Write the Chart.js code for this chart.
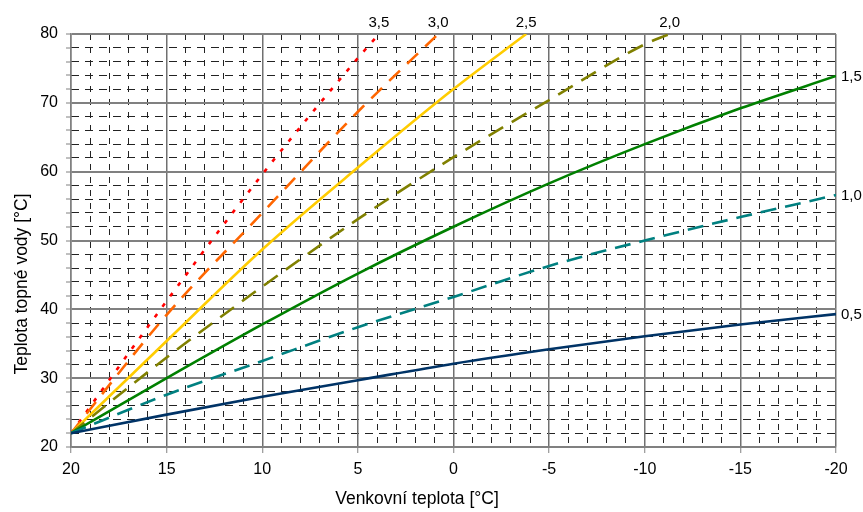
<!DOCTYPE html>
<html>
<head>
<meta charset="utf-8">
<script src="https://cdn.jsdelivr.net/npm/chart.js@4"></script>
<style>
    body { margin: 0; background: #fff; }
    #wrap { width: 863px; height: 512px; }
</style>
</head>
<body>
<div id="wrap"><canvas id="curves" width="863" height="512"></canvas></div>
<script>
// outdoor temperature (x) and water temperature (y)
const tempAll = [20, 15, 10, 5, 0, -5, -10, -15, -20];
const water05 = [22, 24.7, 27.3, 29.7, 32.1, 34.2, 36.1, 37.8, 39.3];
const water10 = [22, 27.6, 32.5, 37.4, 41.8, 46.3, 50.0, 53.4, 56.6];
const water15 = [22, 30.0, 37.8, 45.2, 52.0, 58.3, 64.0, 69.2, 73.9];

const temp20 = [20, 15, 10, 5, 0, -5, -10, -11.3];
const water20 = [22, 33.0, 43.3, 53.1, 62.1, 70.4, 78.5, 80];
const temp25 = [20, 15, 10, 5, 0, -3.8];
const water25 = [22, 35.4, 48.7, 60.6, 72.0, 80];
const temp30 = [20, 15, 10, 5, 0.8];
const water30 = [22, 39.2, 54.0, 68.7, 80];
const temp35 = [20, 15, 10, 5, 3.9];
const water35 = [22, 41.2, 59.6, 76.5, 80];

const curveLabels = ['0,5', '1,0', '1,5', '2,0', '2,5', '3,0', '3,5'];
const xTickLabels = ['20', '15', '10', '5', '0', '-5', '-10', '-15', '-20'];
const yTickLabels = ['20', '30', '40', '50', '60', '70', '80'];

const xTitle = 'Venkovní teplota [°C]';
const yTitle = 'Teplota topné vody [°C]';

const FONT = "'Liberation Sans', Arial, sans-serif";

function pts(xs, ys) {
    return xs.map((x, i) => ({ x: x, y: ys[i] }));
}

function curve(label, xs, ys, colour, dash) {
    return {
        label: label,
        data: pts(xs, ys),
        borderColor: colour,
        backgroundColor: colour,
        borderWidth: 2.6,
        borderDash: dash,
        pointRadius: 0,
        fill: false,
        cubicInterpolationMode: 'monotone',
    };
}

// axis titles + curve names next to the end of each line
const textPlugin = {
    id: 'texts',
    afterDraw(chart) {
        const c = chart.ctx;
        const xs = chart.scales.x, ys = chart.scales.y;
        const area = chart.chartArea;
        c.save();
        c.fillStyle = '#000';

        c.font = '15px ' + FONT;
        chart.data.datasets.forEach(ds => {
            const last = ds.data[ds.data.length - 1];
            const px = xs.getPixelForValue(last.x);
            const py = ys.getPixelForValue(last.y);
            if (last.y >= ys.max) {
                c.textAlign = 'center';
                c.textBaseline = 'bottom';
                c.fillText(ds.label, px, area.top - 4);
            } else {
                c.textAlign = 'left';
                c.textBaseline = 'middle';
                c.fillText(ds.label, area.right + 5, py + 1);
            }
        });

        c.font = '17.5px ' + FONT;
        c.textAlign = 'center';
        c.textBaseline = 'alphabetic';
        c.fillText(xTitle, 417, 504);

        c.translate(27, 284);
        c.rotate(-Math.PI / 2);
        c.fillText(yTitle, 0, 0);
        c.restore();
    },
};

new Chart(document.getElementById('curves'), {
    type: 'line',
    data: {
        datasets: [
            curve(curveLabels[0], tempAll, water05, '#003366', []),
            curve(curveLabels[1], tempAll, water10, '#008080', [16, 9]),
            curve(curveLabels[2], tempAll, water15, '#008000', []),
            curve(curveLabels[3], temp20, water20, '#808000', [17, 10]),
            curve(curveLabels[4], temp25, water25, '#FFCC00', []),
            curve(curveLabels[5], temp30, water30, '#FF6600', [15, 10]),
            curve(curveLabels[6], temp35, water35, '#FF0000', [4, 9]),
        ],
    },
    options: {
        responsive: false,
        animation: false,
        layout: { padding: { top: 34, right: 27, left: 0, bottom: 0 } },
        plugins: {
            legend: { display: false },
            tooltip: { enabled: false },
        },
        scales: {
            xMinor: {
                type: 'linear',
                position: 'top',
                min: -20, max: 20, reverse: true,
                ticks: { display: false, stepSize: 1 },
                border: { display: false, dash: [6, 7] },
                grid: {
                    drawTicks: false,
                    lineWidth: 1,
                    color: ctx => ctx.tick && ctx.tick.value % 5 === 0 ? 'rgba(0,0,0,0)' : '#222',
                },
            },
            yMinor: {
                type: 'linear',
                position: 'right',
                min: 20, max: 80,
                ticks: { display: false, stepSize: 2 },
                border: { display: false, dash: [8, 6] },
                grid: {
                    drawTicks: false,
                    lineWidth: 1,
                    color: ctx => ctx.tick && ctx.tick.value % 10 === 0 ? 'rgba(0,0,0,0)' : '#222',
                },
            },
            x: {
                type: 'linear',
                position: 'bottom',
                min: -20, max: 20, reverse: true,
                afterFit: s => { s.height = 65; },
                ticks: {
                    stepSize: 5,
                    color: '#000',
                    padding: 7,
                    maxRotation: 0,
                    font: { family: FONT, size: 16 },
                    callback: v => xTickLabels.includes(String(v)) ? String(v) : '',
                },
                border: { display: true, color: '#808080', width: 1.5 },
                grid: {
                    color: '#707070',
                    lineWidth: 1.5,
                    tickLength: 6,
                    tickColor: '#808080',
                    tickWidth: 1,
                },
            },
            y: {
                type: 'linear',
                position: 'left',
                min: 20, max: 80,
                afterFit: s => { s.width = 71; },
                ticks: {
                    stepSize: 2,
                    autoSkip: false,
                    color: '#000',
                    padding: 8,
                    font: { family: FONT, size: 16 },
                    callback: v => yTickLabels.includes(String(v)) ? String(v) : '',
                },
                border: { display: true, color: '#808080', width: 1.5 },
                grid: {
                    color: ctx => ctx.tick && ctx.tick.value % 10 === 0 ? '#808080' : 'rgba(0,0,0,0)',
                    lineWidth: 2,
                    tickLength: 5,
                    tickColor: '#808080',
                    tickWidth: 1,
                },
            },
        },
    },
    plugins: [textPlugin],
});
</script>
</body>
</html>
